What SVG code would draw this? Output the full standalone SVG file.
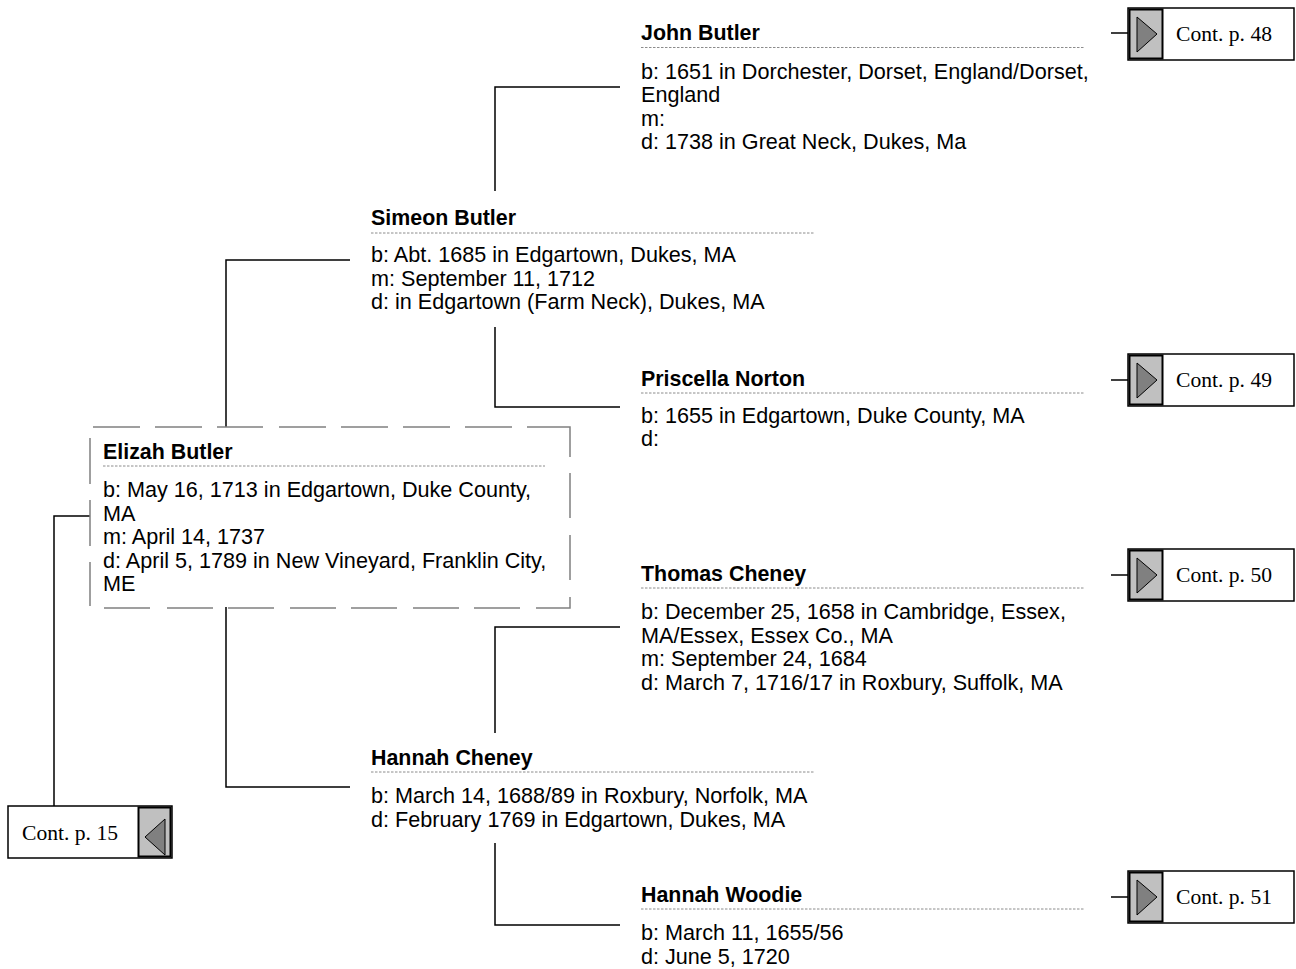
<svg xmlns="http://www.w3.org/2000/svg" width="1296" height="969" viewBox="0 0 1296 969">
<defs>
<style>
.nm{font-family:"Liberation Sans",Arial,sans-serif;font-size:21.4px;font-weight:bold;fill:#000}
.tx{font-family:"Liberation Sans",Arial,sans-serif;font-size:21.6px;fill:#000}
.ct{font-family:"Liberation Serif","Times New Roman",serif;font-size:21.6px;fill:#000}
.dot{stroke:#8c8c8c;stroke-width:1;stroke-dasharray:2.5 1.5;fill:none}
.con{stroke:#000;stroke-width:1.5;fill:none}
.box{fill:#fff;stroke:#000;stroke-width:1.5}
.sq{fill:#c0c0c0;stroke:#000;stroke-width:2}
.tri{fill:#808080;stroke:#000;stroke-width:1}
</style>
</defs>
<rect width="1296" height="969" fill="#fff"/>

<g id="connectors">
<path class="con" d="M495,191 V87 H620"/>
<path class="con" d="M495,327 V407 H620"/>
<path class="con" d="M226,427 V260 H350"/>
<path class="con" d="M226,607 V787 H350"/>
<path class="con" d="M495,733 V627 H620"/>
<path class="con" d="M495,843 V925 H620"/>
<path class="con" d="M90,516 H54 V806"/>
<path class="con" d="M1111,33 H1128"/>
<path class="con" d="M1111,380 H1128"/>
<path class="con" d="M1111,575 H1128"/>
<path class="con" d="M1111,897 H1128"/>
</g>

<g id="john-butler">
<text class="nm" x="641" y="40">John Butler</text>
<line class="dot" x1="641" y1="47.5" x2="1085" y2="47.5"/>
<text class="tx" x="641" y="78.5">b: 1651 in Dorchester, Dorset, England/Dorset,</text>
<text class="tx" x="641" y="102">England</text>
<text class="tx" x="641" y="125.5">m:</text>
<text class="tx" x="641" y="149">d: 1738 in Great Neck, Dukes, Ma</text>
</g>

<g id="simeon-butler">
<text class="nm" x="371" y="224.5">Simeon Butler</text>
<line class="dot" x1="371" y1="233" x2="815" y2="233"/>
<text class="tx" x="371" y="262">b: Abt. 1685 in Edgartown, Dukes, MA</text>
<text class="tx" x="371" y="285.5">m: September 11, 1712</text>
<text class="tx" x="371" y="309">d: in Edgartown (Farm Neck), Dukes, MA</text>
</g>

<g id="priscella-norton">
<text class="nm" x="641" y="385.5">Priscella Norton</text>
<line class="dot" x1="641" y1="393" x2="1085" y2="393"/>
<text class="tx" x="641" y="422.5">b: 1655 in Edgartown, Duke County, MA</text>
<text class="tx" x="641" y="446">d:</text>
</g>

<g id="elizah-butler">
<path fill="none" stroke="#808080" stroke-width="1.5" d="M93,427H140M155,427H202M217,427H263M279,427H326M341,427H388M403,427H450M465,427H512M527,427H570V457M570,473V518M570,535V580M570,597V608H536M520,608H474M459,608H413M397,608H351M336,608H290M274,608H228M213,608H167M150,608H104M90,606V562M90,546V500M90,484V438"/>
<text class="nm" x="103" y="458.5">Elizah Butler</text>
<line class="dot" x1="103" y1="466" x2="545" y2="466"/>
<text class="tx" x="103" y="497">b: May 16, 1713 in Edgartown, Duke County,</text>
<text class="tx" x="103" y="520.5">MA</text>
<text class="tx" x="103" y="544">m: April 14, 1737</text>
<text class="tx" x="103" y="567.5">d: April 5, 1789 in New Vineyard, Franklin City,</text>
<text class="tx" x="103" y="591">ME</text>
</g>

<g id="thomas-cheney">
<text class="nm" x="641" y="580.5">Thomas Cheney</text>
<line class="dot" x1="641" y1="588" x2="1085" y2="588"/>
<text class="tx" x="641" y="619">b: December 25, 1658 in Cambridge, Essex,</text>
<text class="tx" x="641" y="642.5">MA/Essex, Essex Co., MA</text>
<text class="tx" x="641" y="666">m: September 24, 1684</text>
<text class="tx" x="641" y="689.5">d: March 7, 1716/17 in Roxbury, Suffolk, MA</text>
</g>

<g id="hannah-cheney">
<text class="nm" x="371" y="764.5">Hannah Cheney</text>
<line class="dot" x1="371" y1="772" x2="815" y2="772"/>
<text class="tx" x="371" y="803">b: March 14, 1688/89 in Roxbury, Norfolk, MA</text>
<text class="tx" x="371" y="826.5">d: February 1769 in Edgartown, Dukes, MA</text>
</g>

<g id="hannah-woodie">
<text class="nm" x="641" y="901.5">Hannah Woodie</text>
<line class="dot" x1="641" y1="909" x2="1085" y2="909"/>
<text class="tx" x="641" y="940">b: March 11, 1655/56</text>
<text class="tx" x="641" y="963.5">d: June 5, 1720</text>
</g>

<g id="cont-48">
<rect class="box" x="1128" y="8" width="166" height="52"/>
<rect class="sq" x="1129.5" y="9.5" width="33" height="49"/>
<polygon class="tri" points="1137,17 1157,34 1137,52"/>
<text class="ct" x="1176" y="41">Cont. p. 48</text>
</g>

<g id="cont-49">
<rect class="box" x="1128" y="354" width="166" height="52"/>
<rect class="sq" x="1129.5" y="355.5" width="33" height="49"/>
<polygon class="tri" points="1137,363 1157,380 1137,398"/>
<text class="ct" x="1176" y="387">Cont. p. 49</text>
</g>

<g id="cont-50">
<rect class="box" x="1128" y="549" width="166" height="52"/>
<rect class="sq" x="1129.5" y="550.5" width="33" height="49"/>
<polygon class="tri" points="1137,558 1157,575 1137,593"/>
<text class="ct" x="1176" y="582">Cont. p. 50</text>
</g>

<g id="cont-51">
<rect class="box" x="1128" y="871" width="166" height="52"/>
<rect class="sq" x="1129.5" y="872.5" width="33" height="49"/>
<polygon class="tri" points="1137,880 1157,897 1137,915"/>
<text class="ct" x="1176" y="904">Cont. p. 51</text>
</g>

<g id="cont-15">
<rect class="box" x="8" y="806" width="164" height="52"/>
<rect class="sq" x="138.5" y="807.5" width="32" height="49"/>
<polygon class="tri" points="165,819 145,837 165,855"/>
<text class="ct" x="22" y="840">Cont. p. 15</text>
</g>
</svg>
